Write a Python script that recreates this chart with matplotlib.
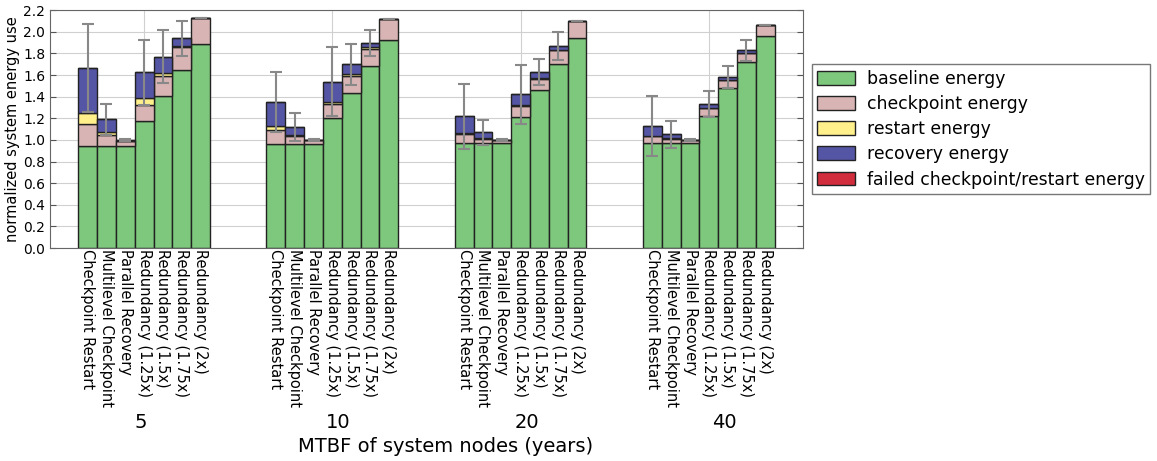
import matplotlib
matplotlib.use("Agg")
import matplotlib.pyplot as plt
import numpy as np

# MTBF groups and the resilience schemes in each group
groups = ["5", "10", "20", "40"]
group_label_x = [-0.02, 1.03, 2.035, 3.085]
schemes = ["Checkpoint Restart", "Multilevel Checkpoint", "Parallel Recovery",
           "Redundancy (1.25x)", "Redundancy (1.5x)", "Redundancy (1.75x)", "Redundancy (2x)"]

# energy components, one list per MTBF group (7 schemes each)
baseline = [[0.943, 0.943, 0.943, 1.174, 1.408, 1.645, 1.885],
            [0.961, 0.961, 0.961, 1.201, 1.435, 1.682, 1.920],
            [0.973, 0.973, 0.973, 1.214, 1.457, 1.698, 1.941],
            [0.973, 0.973, 0.973, 1.223, 1.476, 1.716, 1.960]]
checkpoint = [[0.200, 0.104, 0.047, 0.151, 0.182, 0.210, 0.238],
              [0.127, 0.071, 0.034, 0.127, 0.158, 0.160, 0.197],
              [0.077, 0.037, 0.025, 0.096, 0.108, 0.129, 0.157],
              [0.059, 0.037, 0.025, 0.068, 0.074, 0.089, 0.107]]
restart = [[0.102, 0.022, 0.0, 0.058, 0.030, 0.015, 0.0],
           [0.042, 0.010, 0.0, 0.021, 0.015, 0.016, 0.0],
           [0.016, 0.005, 0.0, 0.010, 0.005, 0.003, 0.0],
           [0.006, 0.003, 0.0, 0.004, 0.003, 0.002, 0.0]]
recovery = [[0.421, 0.121, 0.010, 0.244, 0.150, 0.068, 0.0],
            [0.219, 0.076, 0.005, 0.191, 0.092, 0.037, 0.0],
            [0.154, 0.054, 0.002, 0.100, 0.057, 0.040, 0.0],
            [0.090, 0.037, 0.002, 0.039, 0.027, 0.020, 0.0]]
failed = [[0.0] * 7, [0.0] * 7, [0.0] * 7, [0.0] * 7]
# std-dev of total energy
errors = [[0.41, 0.145, 0.01, 0.30, 0.245, 0.165, 0.0],
          [0.275, 0.13, 0.01, 0.32, 0.19, 0.12, 0.0],
          [0.30, 0.115, 0.01, 0.27, 0.12, 0.13, 0.0],
          [0.28, 0.128, 0.01, 0.12, 0.10, 0.10, 0.0]]

components = [("baseline energy", baseline, "#7dc87d"),
              ("checkpoint energy", checkpoint, "#d8b4b4"),
              ("restart energy", restart, "#fff08c"),
              ("recovery energy", recovery, "#5555a5"),
              ("failed checkpoint/restart energy", failed, "#d22d3c")]

width = 0.1
fig = plt.figure(figsize=(11.57, 4.61), dpi=100)
ax = fig.add_axes([0.0432, 0.462, 0.6508, 0.516])
ax.set_axisbelow(True)

xpos = []
for g in range(len(groups)):
    x = g + (np.arange(len(schemes)) - 3) * width
    xpos.extend(x)
    ax.axvline(g, color="#d0d0d0", linewidth=0.8, zorder=0)
    bottom = np.zeros(len(schemes))
    for name, vals, col in components:
        v = np.array(vals[g])
        ax.bar(x, v, width, bottom=bottom, color=col, edgecolor="#222222",
               linewidth=1.0, label=name if g == 0 else None, zorder=2)
        bottom += v
    ax.errorbar(x, bottom, yerr=errors[g], fmt="none", ecolor="#888888",
                elinewidth=1.5, capsize=4, capthick=1.5, zorder=3)
    ax.text(group_label_x[g], -0.735, groups[g], transform=ax.get_xaxis_transform(),
            ha="center", va="center", fontsize=14)

ax.set_xlim(-0.5, 3.5)
ax.set_ylim(0, 2.2)
ax.set_yticks(np.arange(0, 2.21, 0.2))
ax.set_yticklabels(["%.1f" % t for t in np.arange(0, 2.21, 0.2)], fontsize=10)
ax.set_ylabel("normalized system energy use", fontsize=10.5, labelpad=2)

ax.set_xticks(xpos)
ax.set_xticklabels(schemes * len(groups), rotation=270, fontsize=10.5)
ax.tick_params(axis="x", length=0, pad=1)
ax.set_xlabel("MTBF of system nodes (years)", fontsize=14)
ax.xaxis.set_label_coords(0.526, -0.836)
ax.xaxis.label.set_va("center")

ax.tick_params(axis="y", direction="in", right=True, length=4, color="#555555")
ax.grid(True, axis="y", color="#d0d0d0", linewidth=0.8)
for s in ax.spines.values():
    s.set_color("#666666")

leg = ax.legend(loc="center left", bbox_to_anchor=(1.012, 0.5), fontsize=12.4,
                fancybox=False, handlelength=2.2, handleheight=0.85,
                handletextpad=0.7, labelspacing=0.42, borderpad=0.3,
                borderaxespad=0)
leg.get_frame().set_edgecolor("#555555")
leg.get_frame().set_linewidth(1.0)

fig.savefig("out.png", dpi=100)
